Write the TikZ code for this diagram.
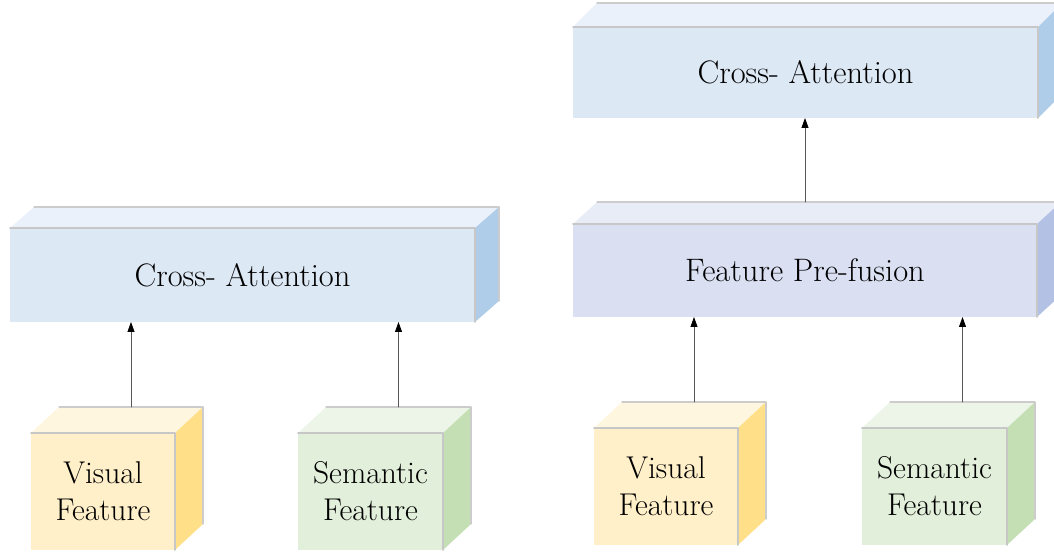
\RequirePackage{fix-cm}
\documentclass[tikz,border=0pt]{standalone}
\usepackage{tikz}
\usetikzlibrary{arrows.meta}
\usetikzlibrary{calc}

\definecolor{caFront}{HTML}{DDE8F5}
\definecolor{caTop}{HTML}{EAF1FA}
\definecolor{caSide}{HTML}{AFCDE9}
\definecolor{pfFront}{HTML}{DADFF2}
\definecolor{pfTop}{HTML}{E8ECF7}
\definecolor{pfSide}{HTML}{B3C2E4}
\definecolor{visFront}{HTML}{FFF0C9}
\definecolor{visTop}{HTML}{FFF6DF}
\definecolor{visSide}{HTML}{FFDF88}
\definecolor{semFront}{HTML}{E2EFDA}
\definecolor{semTop}{HTML}{EDF5E9}
\definecolor{semSide}{HTML}{C5DFB4}

\tikzset{
  face/.style={inner sep=0pt, outer sep=0pt, align=center, text=black},
  bigface/.style={face, minimum height=93pt, font=\fontsize{32.5}{37}\selectfont},
  cubeface/.style={face, minimum width=144pt, minimum height=117pt, font=\fontsize{31.5}{37}\selectfont},
  edgeshade/.style={draw=black!22, line width=1.6pt},
  backshade/.style={draw=black!20, line width=1.2pt},
  arr/.style={draw=black!65, line width=0.8pt, -{Triangle[length=10pt,width=7pt,color=black]}}
}

% top and right faces of a box around the front node #1
\newcommand{\boxfaces}[5]{%
  \fill[#4] (#1.north west) -- ++(#2,#3) -- ([shift={(#2,#3)}]#1.north east) -- (#1.north east) -- cycle;
  \fill[#5] (#1.north east) -- ++(#2,#3) -- ([shift={(#2,#3)}]#1.south east) -- (#1.south east) -- cycle;
  \draw[backshade] ([shift={(#2,#3)}]#1.north west) -- ([shift={(#2,#3)}]#1.north east) -- ([shift={(#2,#3)}]#1.south east);
  \draw[edgeshade] (#1.north west) -- (#1.north east) -- (#1.south east);
}

\begin{document}
\begin{tikzpicture}[line cap=round,line join=round,x=1pt,y=1pt]
\useasboundingbox (0,0) rectangle (1054,553);
\clip (0,0) rectangle (1054,553);

% left part
\node[bigface, fill=caFront, minimum width=465pt, minimum height=94pt] (ca1) at (242.5,278) {Cross- Attention};
\boxfaces{ca1}{24}{21}{caTop}{caSide}
\node[cubeface, fill=visFront] (vis1) at (103,61.5) {Visual\\Feature};
\boxfaces{vis1}{28}{26}{visTop}{visSide}
\node[cubeface, fill=semFront, minimum width=145pt] (sem1) at (370.5,61.5) {Semantic\\Feature};
\boxfaces{sem1}{28}{26}{semTop}{semSide}

% right part
\node[bigface, fill=caFront, minimum width=465pt, minimum height=91pt] (ca2) at (805.5,480.5) {Cross- Attention};
\boxfaces{ca2}{24}{24}{caTop}{caSide}
\node[bigface, fill=pfFront, minimum width=464pt] (pf) at (805,282.5) {Feature Pre-fusion};
\boxfaces{pf}{24}{22}{pfTop}{pfSide}
\node[cubeface, fill=visFront] (vis2) at (666,66.5) {Visual\\Feature};
\boxfaces{vis2}{28}{26}{visTop}{visSide}
\node[cubeface, fill=semFront, minimum width=145pt] (sem2) at (934.5,66.5) {Semantic\\Feature};
\boxfaces{sem2}{28}{26}{semTop}{semSide}

% arrow starts on the back top edges
\coordinate (vis1t) at ([shift={(28,26)}]vis1.north);
\coordinate (sem1t) at ([shift={(28,26)}]sem1.north);
\coordinate (vis2t) at ([shift={(28,26)}]vis2.north);
\coordinate (sem2t) at ([shift={(28,26)}]sem2.north);
\coordinate (pft) at ([shift={(0,22)}]pf.north);

\draw[arr] (vis1t) -- (vis1t |- ca1.south);
\draw[arr] (sem1t) -- (sem1t |- ca1.south);
\draw[arr] (vis2t) -- (vis2t |- pf.south);
\draw[arr] (sem2t) -- (sem2t |- pf.south);
\draw[arr] (pft) -- (pft |- ca2.south);
\end{tikzpicture}
\end{document}
